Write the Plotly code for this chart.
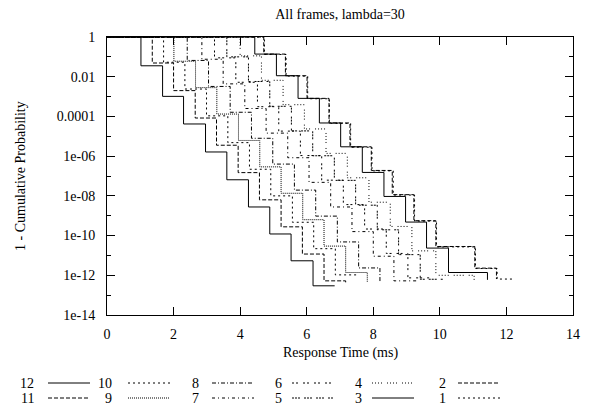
import plotly.graph_objects as go

# ---- data ----
names = ["12", "11", "10", "9", "8", "7", "6", "5", "4", "3", "2", "1"]

# times (ms) where each curve steps down, log10 of probability after each step, end time
c12_t = [1.02, 1.67, 2.30, 2.96, 3.60, 4.25, 4.89, 5.53, 6.19]
c12_lp = [-1.45, -2.99, -4.38, -5.79, -7.19, -8.56, -9.92, -11.27, -12.53]
c12_end = 6.84

c11_t = [1.36, 2.00, 2.65, 3.29, 3.94, 4.58, 5.23, 5.87, 6.52, 7.17]
c11_lp = [-1.31, -2.70, -4.08, -5.45, -6.83, -8.20, -9.56, -10.93, -12.28, -12.45]
c11_end = 7.17

c10_t = [1.70, 2.34, 2.99, 3.63, 4.28, 4.92, 5.57, 6.21, 6.86]
c10_lp = [-1.27, -2.62, -3.97, -5.32, -6.66, -8.00, -9.33, -10.66, -11.98]
c10_end = 7.50

c9_t = [2.01, 2.66, 3.30, 3.95, 4.59, 5.23, 5.88, 6.52, 7.17, 7.82]
c9_lp = [-1.22, -2.55, -3.88, -5.21, -6.54, -7.87, -9.20, -10.53, -11.86, -12.33]
c9_end = 7.82

c8_t = [2.41, 3.05, 3.70, 4.34, 4.98, 5.63, 6.27, 6.92, 7.56, 8.20]
c8_lp = [-1.18, -2.49, -3.79, -5.10, -6.40, -7.71, -9.02, -10.32, -11.63, -12.38]
c8_end = 8.20

c7_t = [2.85, 3.49, 4.14, 4.78, 5.43, 6.07, 6.72, 7.36, 8.00, 8.62]
c7_lp = [-1.12, -2.36, -3.60, -4.84, -6.08, -7.32, -8.56, -9.80, -11.04, -12.28]
c7_end = 9.36

c6_t = [3.23, 3.87, 4.52, 5.16, 5.81, 6.45, 7.10, 7.74, 8.39, 9.04]
c6_lp = [-1.05, -2.28, -3.51, -4.74, -5.97, -7.21, -8.44, -9.67, -10.90, -12.13]
c6_end = 9.68

c5_t = [3.60, 4.25, 4.89, 5.54, 6.18, 6.83, 7.47, 8.12, 8.76, 9.41]
c5_lp = [-1.00, -2.24, -3.49, -4.73, -5.98, -7.22, -8.47, -9.71, -10.96, -12.20]
c5_end = 10.10

c4_t = [4.00, 4.64, 5.29, 5.93, 6.58, 7.22, 7.87, 8.51, 9.16, 9.88, 11.03]
c4_lp = [-0.95, -2.18, -3.41, -4.63, -5.86, -7.09, -8.32, -9.54, -10.77, -12.00, -12.28]
c4_end = 11.03

c3_t = [4.44, 5.09, 5.74, 6.38, 7.02, 7.67, 8.32, 8.97, 9.60, 10.26, 11.43]
c3_lp = [-0.86, -1.95, -3.09, -4.33, -5.53, -6.82, -8.03, -9.32, -10.63, -11.86, -12.23]
c3_end = 11.43

c2_t = [4.71, 5.36, 6.01, 6.67, 7.30, 7.94, 8.57, 9.22, 9.88, 11.05, 11.70]
c2_lp = [-0.86, -1.95, -3.09, -4.33, -5.53, -6.72, -7.94, -9.25, -10.55, -11.64, -12.19]
c2_end = 11.70

c1_t = [4.73, 5.38, 6.03, 6.68, 7.32, 7.96, 8.60, 9.24, 9.90, 11.07, 11.72]
c1_lp = [-0.88, -1.97, -3.11, -4.35, -5.55, -6.74, -7.96, -9.27, -10.57, -11.66, -12.19]
c1_end = 12.23

curves = [
    (c12_t, c12_lp, c12_end), (c11_t, c11_lp, c11_end), (c10_t, c10_lp, c10_end),
    (c9_t, c9_lp, c9_end), (c8_t, c8_lp, c8_end), (c7_t, c7_lp, c7_end),
    (c6_t, c6_lp, c6_end), (c5_t, c5_lp, c5_end), (c4_t, c4_lp, c4_end),
    (c3_t, c3_lp, c3_end), (c2_t, c2_lp, c2_end), (c1_t, c1_lp, c1_end),
]

x_ticks = [0, 2, 4, 6, 8, 10, 12, 14]
y_major = [1, 1e-2, 1e-4, 1e-6, 1e-8, 1e-10, 1e-12, 1e-14]
y_major_text = ["1", "0.01", "0.0001", "1e-06", "1e-08", "1e-10", "1e-12", "1e-14"]
y_minor = [1e-1, 1e-3, 1e-5, 1e-7, 1e-9, 1e-11, 1e-13]

# gnuplot-like dash patterns (line types 1..9, wrapping)
dashes = ["solid", "4px,2px", "2px,3px", "1px,1px", "4px,2px,1px,2px",
          "3px,3px,1px,3px", "2px,2px,2px,5px", "2px,1px,2px,1px,2px,4px",
          "1px,2px,1px,2px,1px,2px,1px,5px"]

FONT = "Liberation Serif, Times New Roman, Times, serif"

fig = go.Figure()
for i, (name, (t, lp, end)) in enumerate(zip(names, curves)):
    xs = [0] + list(t)
    ys = [1.0] + [10 ** v for v in lp]
    if end > t[-1]:
        xs.append(end)
        ys.append(ys[-1])
    fig.add_trace(go.Scatter(
        x=xs, y=ys, mode="lines", name=name, line_shape="hv",
        line=dict(color="black", width=1, dash=dashes[i % 9]),
        showlegend=False,
    ))

W, H = 592, 415
L, R, T, B = 107, 19, 37, 100
PW, PH = W - L - R, H - T - B


def px(xp):
    return (xp - L) / PW


def py(yp):
    return (H - B - yp) / PH


# custom gnuplot-style key below the plot: label then line sample
key_cols_text = [36, 114, 201, 284, 364, 448]
key_cols_line = [(48, 90), (128, 170), (212, 254), (292, 334), (372, 414), (458, 500)]
key_rows = [383, 398]

annotations = []
shapes = []
for i, name in enumerate(names):
    col, row = divmod(i, 2)
    yk = key_rows[row]
    annotations.append(dict(
        x=px(key_cols_text[col]), y=py(yk), xref="paper", yref="paper",
        text=name, showarrow=False, xanchor="right", yanchor="middle",
        font=dict(family=FONT, size=14, color="black")))
    x0, x1 = key_cols_line[col]
    shapes.append(dict(
        type="line", xref="paper", yref="paper",
        x0=px(x0), x1=px(x1), y0=py(yk), y1=py(yk),
        line=dict(color="black", width=1, dash=dashes[i % 9])))

annotations.append(dict(
    x=px(340), y=py(353), xref="paper", yref="paper", text="Response Time (ms)",
    showarrow=False, xanchor="center", yanchor="middle",
    font=dict(family=FONT, size=14, color="black")))
annotations.append(dict(
    x=px(20), y=py(176), xref="paper", yref="paper", text="1 - Cumulative Probability",
    showarrow=False, xanchor="center", yanchor="middle", textangle=-90,
    font=dict(family=FONT, size=14, color="black")))

fig.update_layout(
    width=W, height=H,
    margin=dict(l=L, r=R, t=T, b=B, pad=0),
    paper_bgcolor="white", plot_bgcolor="white",
    title=dict(text="All frames, lambda=30", x=px(340), xref="paper",
               y=1 - 14 / H, yref="container", xanchor="center", yanchor="middle",
               font=dict(family=FONT, size=14, color="black")),
    annotations=annotations, shapes=shapes,
    font=dict(family=FONT, size=14, color="black"),
)
fig.update_xaxes(
    range=[0, 14], tickvals=x_ticks, ticks="inside", ticklen=8, tickcolor="black",
    showline=True, linecolor="black", linewidth=1, mirror="ticks",
    showgrid=False, zeroline=False, ticklabelstandoff=6,
    tickfont=dict(family=FONT, size=14, color="black"),
)
fig.update_yaxes(
    type="log", range=[-14, 0], tickvals=y_major, ticktext=y_major_text,
    ticks="inside", ticklen=8, tickcolor="black",
    minor=dict(tickvals=y_minor, ticks="inside", ticklen=4, tickcolor="black"),
    showline=True, linecolor="black", linewidth=1, mirror="ticks",
    showgrid=False, zeroline=False, ticklabelstandoff=8,
    tickfont=dict(family=FONT, size=14, color="black"),
)

fig.write_html("out.html")
